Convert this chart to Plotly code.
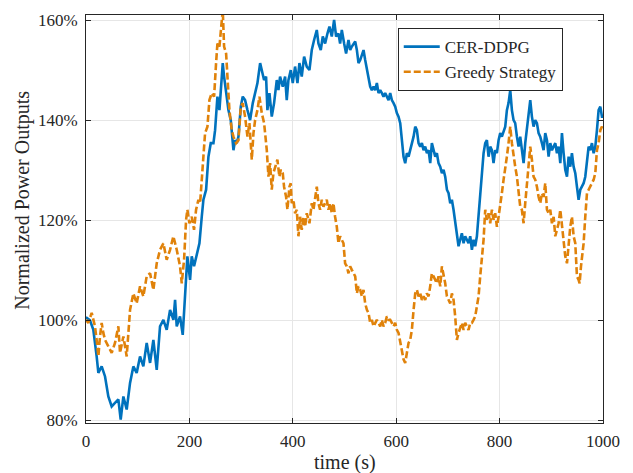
import plotly.graph_objects as go

# CER-DDPG normalized power output (%) over time (s)
t_cer = [0, 1.3, 7.7, 14.2, 20.6, 23.9, 30.3, 36.8, 43.2, 49.7, 56.1, 62.6, 67.1, 72.3, 78.7,
         85.2, 91.6, 98.0, 104.5, 110.9, 117.4, 123.9, 130.3, 136.8, 143.2, 149.7, 156.1, 162.6,
         169.1, 172.3, 175.5, 181.9, 187.1, 191.6, 196.1, 201.3, 204.5, 209.0, 214.2, 219.4,
         223.9, 227.1, 232.3, 236.8, 241.3, 246.5, 249.7, 254.2, 258.1, 260.7, 264.5, 267.1,
         271.0, 275.5, 280.0, 285.2, 288.4, 291.6, 294.9, 299.4, 303.2, 307.7, 312.3, 317.4,
         322.6, 327.1, 331.6, 336.8, 341.9, 344.4, 348.3, 350.9, 354.8, 359.3, 363.8, 369.0,
         372.2, 375.4, 380.6, 385.1, 388.3, 391.5, 396.1, 399.9, 404.4, 409.0, 412.8, 417.3,
         421.9, 427.0, 432.2, 436.7, 441.2, 446.4, 449.6, 454.1, 458.0, 462.5, 467.0, 470.9,
         475.4, 479.9, 483.8, 488.3, 491.5, 494.8, 499.3, 503.1, 507.7, 511.0, 514.2, 517.5,
         520.7, 523.9, 527.1, 530.4, 533.6, 536.8, 540.0, 543.3, 546.5, 549.7, 552.9, 556.2,
         559.4, 562.6, 565.8, 569.1, 572.3, 575.5, 578.7, 582.0, 585.2, 588.4, 591.6, 594.9,
         598.1, 601.3, 604.5, 607.8, 611.0, 614.2, 617.4, 620.7, 623.9, 627.1, 630.3, 633.6,
         636.8, 640.0, 643.2, 646.5, 649.7, 652.9, 656.1, 659.4, 662.6, 665.8, 669.0, 672.3,
         675.5, 678.7, 681.9, 685.2, 688.4, 691.6, 694.8, 698.1, 701.3, 704.5, 707.7, 710.9,
         714.1, 717.4, 720.6, 723.8, 727.0, 730.3, 733.5, 736.7, 739.9, 743.2, 746.4, 749.6,
         752.8, 756.1, 759.3, 762.5, 765.7, 769.0, 772.2, 775.4, 778.6, 781.9, 785.1, 788.3,
         791.5, 794.8, 798.0, 801.2, 804.4, 807.7, 810.9, 814.1, 817.3, 820.6, 823.8, 827.0,
         830.2, 833.5, 836.7, 839.9, 843.1, 846.4, 849.6, 852.8, 856.0, 859.3, 862.5, 865.7,
         868.9, 872.2, 875.4, 878.6, 881.9, 885.1, 888.3, 891.6, 894.8, 898.0, 901.2, 904.5,
         907.7, 910.9, 914.1, 917.4, 920.6, 923.8, 927.0, 930.3, 933.5, 936.7, 939.9, 943.2,
         946.4, 949.6, 952.8, 956.1, 959.3, 962.5, 965.7, 969.0, 972.2, 975.4, 978.6, 981.9,
         985.1, 988.3, 991.5, 994.8, 998.0, 1000]
p_cer = [100.5, 100.5, 100.0, 98.1, 92.8, 89.5, 90.8, 88.8, 84.8, 82.8, 83.5, 84.2, 80.2, 84.8, 82.2,
         87.5, 90.8, 89.5, 92.8, 90.8, 95.5, 91.5, 96.1, 90.1, 98.8, 100.1, 98.1, 102.1,
         100.1, 104.1, 98.8, 100.8, 97.1, 104.8, 112.8, 108.1, 112.8, 110.8, 113.4, 115.4,
         120.7, 124.1, 126.1, 132.7, 135.4, 135.4, 138.0, 144.7, 142.0, 145.4, 151.4, 148.7,
         146.0, 142.0, 140.0, 134.0, 136.0, 135.4, 136.7, 142.7, 144.7, 144.0, 142.0, 140.0,
         143.4, 145.4, 147.4, 151.4, 149.4, 148.0, 148.7, 142.0, 145.4, 140.7, 143.4, 148.0,
         146.0, 148.7, 146.7, 148.7, 144.0, 148.0, 150.0, 147.4, 150.7, 147.4, 151.4, 148.7,
         152.7, 150.7, 150.0, 154.0, 156.0, 158.0, 155.3, 154.0, 156.7, 155.3, 157.3, 158.7,
         156.7, 160.0, 156.7, 157.3, 155.3, 158.0, 155.3, 153.3, 156.0, 154.0, 154.7, 155.3,
         155.7, 154.0, 151.4, 152.0, 153.3, 154.0, 152.0, 150.0, 148.7, 146.7, 146.0, 146.7,
         146.0, 147.4, 145.4, 146.0, 145.4, 144.7, 145.4, 144.7, 144.0, 145.4, 144.0, 143.4,
         142.7, 141.4, 140.7, 139.4, 135.4, 132.7, 131.4, 133.4, 132.7, 134.0, 135.4, 136.7,
         138.7, 138.0, 135.4, 134.7, 135.4, 134.0, 134.7, 133.4, 134.0, 131.4, 135.4, 134.0,
         132.7, 133.4, 131.4, 130.7, 129.4, 130.1, 128.7, 126.1, 125.4, 123.4, 124.1, 122.1,
         119.4, 116.8, 114.8, 116.1, 117.4, 115.4, 116.8, 116.1, 115.4, 116.8, 114.1, 116.1,
         114.8, 116.8, 120.7, 124.7, 129.4, 133.4, 135.4, 136.0, 132.7, 134.7, 134.0, 131.4,
         134.0, 133.4, 136.0, 137.4, 136.7, 138.0, 138.7, 142.0, 143.4, 146.0, 142.0, 140.0,
         139.4, 136.7, 134.7, 136.7, 134.0, 131.4, 135.4, 138.7, 141.4, 144.0, 140.7, 138.7,
         140.0, 139.4, 137.4, 136.7, 135.4, 134.0, 137.4, 136.0, 132.7, 135.4, 134.0, 134.7,
         135.4, 133.4, 134.7, 131.4, 137.4, 133.4, 130.1, 128.7, 132.7, 130.7, 133.4, 130.7,
         129.4, 126.7, 124.1, 126.1, 126.7, 127.4, 128.7, 132.1, 134.7, 134.0, 135.4, 133.4,
         134.7, 138.0, 142.0, 142.7, 140.7, 140.7]

# Greedy strategy normalized power output (%) over time (s)
t_greedy = [0, 4.5, 11.0, 17.4, 20.6, 23.9, 27.1, 30.3, 33.5, 36.8, 43.2, 49.7, 56.1, 62.6, 65.8,
            72.3, 78.7, 85.2, 91.6, 98.0, 104.5, 110.9, 117.4, 123.9, 130.3, 136.8, 143.2, 149.7,
            156.1, 162.6, 169.0, 175.5, 181.9, 185.2, 189.7, 193.6, 196.1, 200.0, 204.5, 209.0,
            212.9, 217.4, 220.7, 223.9, 227.1, 230.3, 234.9, 238.7, 243.2, 247.8, 251.6, 254.2,
            258.1, 260.7, 264.5, 267.1, 271.0, 273.6, 277.4, 281.9, 285.2, 290.3, 294.9, 299.4,
            303.2, 307.7, 312.3, 316.1, 320.7, 323.9, 327.1, 331.6, 335.5, 340.0, 344.5, 349.7,
            352.9, 356.1, 359.3, 362.5, 365.7, 370.2, 374.1, 376.7, 380.6, 383.1, 387.0, 389.6,
            393.5, 396.0, 398.0, 401.2, 404.4, 407.7, 410.9, 414.1, 417.3, 420.6, 423.8, 427.0,
            432.2, 436.7, 439.9, 443.1, 446.4, 449.6, 452.8, 456.0, 459.3, 462.5, 465.7, 468.9,
            472.2, 475.4, 478.6, 481.8, 485.1, 488.3, 491.5, 494.8, 498.0, 501.2, 504.4, 507.7,
            510.9, 514.2, 517.5, 520.7, 523.9, 527.1, 530.4, 533.6, 536.8, 540.0, 543.3, 546.5,
            549.7, 552.9, 556.2, 559.4, 562.6, 565.8, 569.1, 572.3, 575.5, 578.7, 582.0, 585.2,
            588.4, 591.6, 594.9, 598.1, 601.3, 604.5, 607.8, 611.0, 614.2, 617.4, 620.7, 623.9,
            627.1, 630.3, 633.6, 636.8, 640.0, 643.2, 646.5, 649.7, 652.9, 656.1, 659.4, 662.6,
            665.8, 669.0, 672.3, 675.5, 678.7, 681.9, 685.2, 688.4, 691.6, 694.8, 698.1, 701.3,
            704.5, 707.7, 710.9, 714.1, 717.4, 720.6, 723.8, 727.0, 730.3, 733.5, 736.7, 739.9,
            743.2, 746.4, 749.6, 752.8, 756.1, 759.3, 762.5, 765.7, 769.0, 772.2, 775.4, 778.6,
            781.9, 785.1, 788.3, 791.5, 794.8, 798.0, 801.2, 804.4, 807.7, 810.9, 814.1, 817.3,
            820.6, 823.8, 827.0, 830.2, 833.5, 836.7, 839.9, 843.1, 846.4, 849.6, 852.8, 856.0,
            859.3, 862.5, 865.7, 868.9, 872.2, 875.4, 878.6, 881.9, 885.1, 888.3, 891.6, 894.8,
            898.0, 901.2, 904.5, 907.7, 910.9, 914.1, 917.4, 920.6, 923.8, 927.0, 930.3, 933.5,
            936.7, 939.9, 943.2, 946.4, 949.6, 952.8, 954.8, 957.4, 959.3, 962.5, 965.7, 969.0,
            972.2, 975.4, 978.6, 981.9, 985.1, 988.3, 991.5, 994.8, 998.0, 1000]
p_greedy = [100.1, 99.5, 101.5, 98.8, 96.1, 92.8, 96.8, 99.5, 97.5, 96.1, 94.8, 93.5, 95.5, 98.8, 93.5,
            96.8, 92.8, 102.1, 105.4, 103.4, 106.8, 104.8, 108.8, 109.4, 106.1, 111.4, 114.1, 115.4,
            112.1, 114.1, 116.8, 114.1, 110.8, 107.4, 112.1, 120.1, 122.1, 119.4, 120.7, 118.1,
            122.1, 124.1, 123.4, 128.7, 134.0, 137.4, 138.7, 144.0, 145.4, 144.7, 151.4, 155.3,
            154.7, 158.0, 162.0, 154.7, 153.3, 148.7, 142.0, 138.0, 136.7, 135.4, 136.0, 142.7,
            143.4, 140.7, 136.7, 139.4, 132.1, 137.4, 140.0, 142.0, 144.7, 141.4, 139.4, 134.0,
            128.7, 131.4, 126.1, 129.4, 130.7, 132.1, 128.7, 130.1, 129.4, 126.7, 124.7, 122.1,
            126.7, 127.4, 123.4, 124.1, 121.4, 122.1, 116.8, 120.7, 118.1, 120.7, 118.7, 121.4,
            119.4, 123.4, 122.1, 124.1, 126.7, 123.4, 122.1, 124.1, 122.7, 123.4, 124.1, 122.1,
            123.4, 121.4, 123.4, 120.7, 118.7, 115.4, 116.8, 116.1, 115.4, 111.4, 110.8, 109.4,
            110.8, 110.1, 109.4, 108.8, 105.4, 106.8, 106.1, 104.8, 106.1, 103.4, 102.1, 101.5,
            99.5, 100.1, 98.8, 99.5, 100.1, 99.5, 98.8, 100.1, 98.8, 99.5, 100.8, 100.1,
            100.1, 99.5, 98.8, 99.5, 98.1, 97.5, 95.5, 93.5, 92.2, 91.5, 93.5, 95.5,
            96.1, 98.1, 102.1, 105.4, 106.1, 104.8, 105.4, 104.1, 104.8, 104.1, 105.4, 104.8,
            106.8, 109.4, 108.8, 108.1, 107.4, 108.8, 106.8, 110.8, 109.4, 107.4, 104.8, 104.1,
            103.4, 105.4, 104.1, 100.8, 96.1, 97.5, 98.8, 99.5, 98.1, 99.5, 98.8, 98.1,
            99.5, 99.5, 100.1, 100.8, 102.8, 104.8, 108.8, 112.1, 116.1, 122.1, 120.1, 121.4,
            119.4, 122.1, 120.1, 121.4, 118.7, 120.7, 122.7, 125.4, 128.1, 130.1, 132.7, 135.4,
            138.7, 135.4, 132.7, 130.7, 128.7, 125.4, 122.7, 122.1, 119.4, 123.4, 127.4, 130.7,
            134.7, 132.1, 128.7, 128.1, 126.7, 124.7, 123.4, 125.4, 124.7, 127.4, 122.1, 121.4,
            122.1, 119.4, 120.7, 116.8, 118.1, 119.4, 122.1, 118.7, 115.4, 112.8, 111.4, 115.4,
            118.7, 120.7, 116.8, 115.4, 108.8, 108.1, 107.4, 110.8, 112.8, 115.4, 120.7, 125.4,
            126.1, 126.7, 127.4, 128.1, 129.4, 134.0, 135.4, 138.0, 138.7, 138.0]

x_ticks = [0, 200, 400, 600, 800, 1000]
y_ticks = [80, 100, 120, 140, 160]
y_tick_text = ["80%", "100%", "120%", "140%", "160%"]

BLUE = "#0072BD"
ORANGE = "#E0820A"
AXIS = "#262626"
FONT = "Liberation Serif"

fig = go.Figure()
fig.add_trace(go.Scatter(x=t_cer, y=p_cer, mode="lines", name="CER-DDPG",
                         line=dict(color=BLUE, width=2.6)))
fig.add_trace(go.Scatter(x=t_greedy, y=p_greedy, mode="lines", name="Greedy Strategy",
                         line=dict(color=ORANGE, width=2.6, dash="7px,3px")))

axis_common = dict(
    showline=True, linecolor=AXIS, linewidth=1, mirror="ticks",
    ticks="inside", ticklen=5, tickcolor=AXIS, tickwidth=1,
    showgrid=True, gridcolor="#e6e6e6", gridwidth=1, zeroline=False,
    tickfont=dict(family=FONT, size=17, color=AXIS),
)

fig.update_layout(
    width=633, height=473,
    margin=dict(l=86, r=30, t=15, b=50),
    paper_bgcolor="white", plot_bgcolor="white",
    xaxis=dict(range=[0, 1000], tickvals=x_ticks, ticklabelstandoff=3, **axis_common),
    yaxis=dict(range=[79.5, 161], tickvals=y_ticks, ticktext=y_tick_text,
               ticklabelstandoff=4, **axis_common),
    legend=dict(x=0.603, y=0.968, xanchor="left", yanchor="top",
                bgcolor="white", bordercolor=AXIS, borderwidth=1,
                font=dict(family=FONT, size=17, color=AXIS),
                tracegroupgap=0, itemwidth=36),
    showlegend=True,
    annotations=[
        dict(text="time (s)", xref="paper", yref="paper", x=0.5, y=-0.098,
             xanchor="center", yanchor="middle", showarrow=False,
             font=dict(family=FONT, size=20, color=AXIS)),
        dict(text="Normalized Power Outputs", xref="paper", yref="paper", x=-0.122, y=0.547,
             xanchor="center", yanchor="middle", textangle=-90, showarrow=False,
             font=dict(family=FONT, size=20, color=AXIS)),
    ],
)

fig.write_html("out.html")
